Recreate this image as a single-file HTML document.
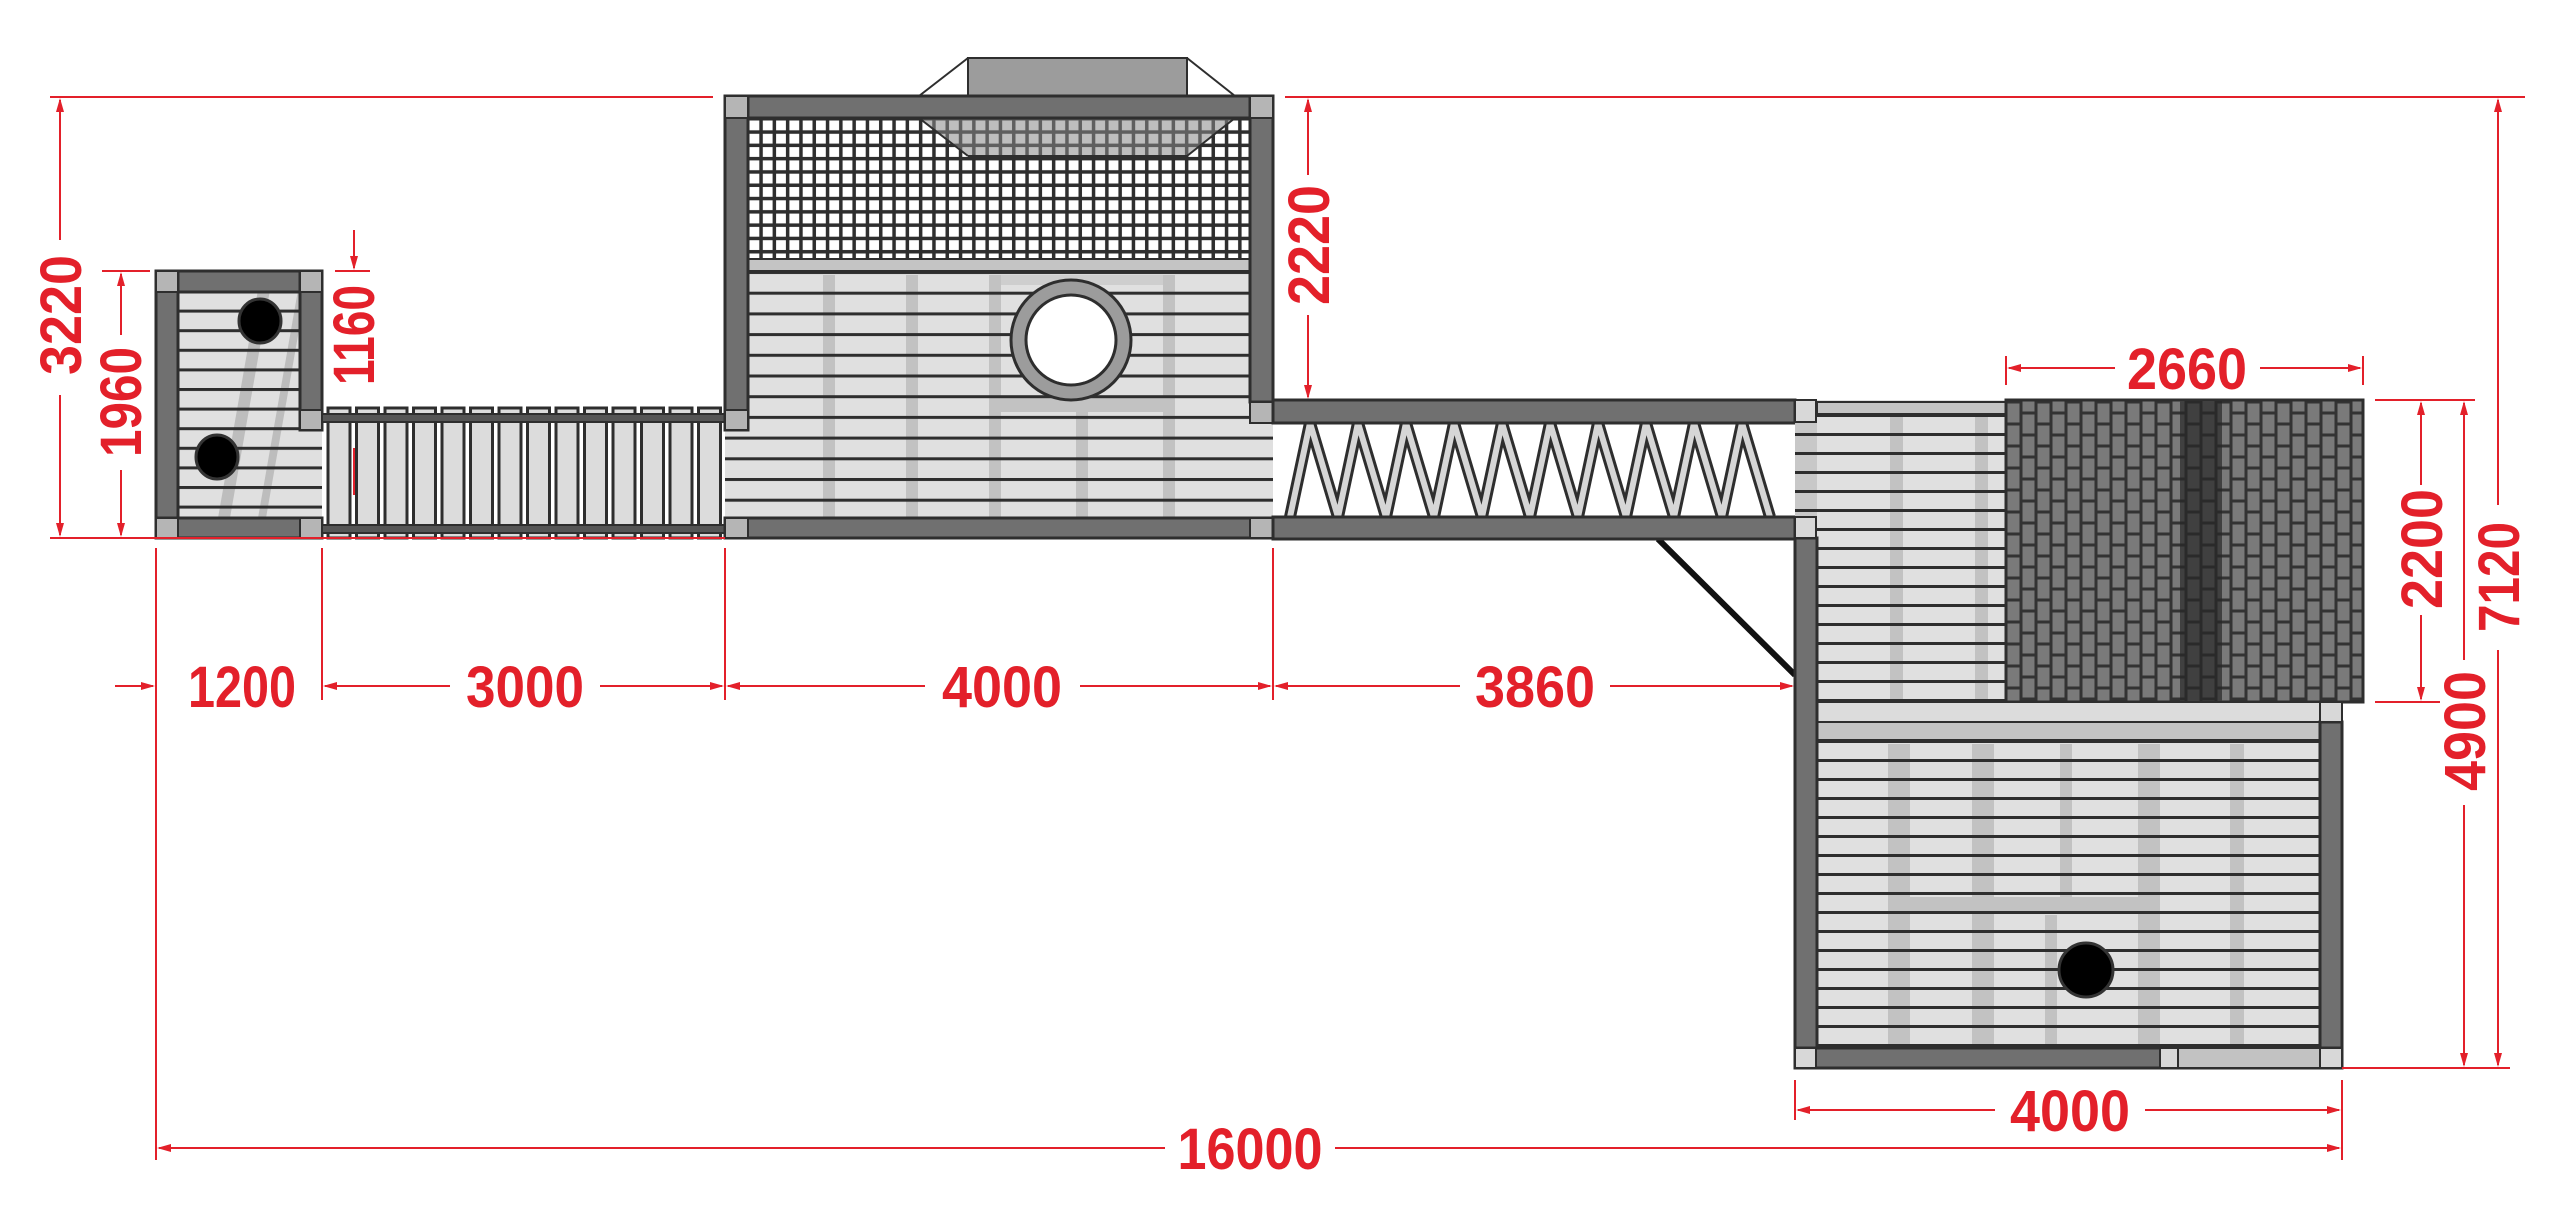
<!DOCTYPE html>
<html><head><meta charset="utf-8"><style>html,body{margin:0;padding:0;background:#fff}svg{display:block}</style></head>
<body>
<svg width="2560" height="1229" viewBox="0 0 2560 1229" xmlns="http://www.w3.org/2000/svg">
<defs>
<pattern id="net" x="748" y="119" width="13.3" height="13.3" patternUnits="userSpaceOnUse">
<rect width="13.3" height="13.3" fill="#2e2e2e"/><rect x="1.5" y="1.5" width="9.8" height="9.8" fill="#fff"/>
</pattern>
<pattern id="brick" x="2006" y="402" width="30" height="44" patternUnits="userSpaceOnUse">
<rect width="30" height="44" fill="#333"/>
<rect x="1.5" y="1.5" width="12" height="19" fill="#7a7a7a"/><rect x="1.5" y="23.5" width="12" height="19" fill="#7a7a7a"/>
<rect x="16.5" y="-9.5" width="12" height="19" fill="#7a7a7a"/><rect x="16.5" y="12.5" width="12" height="19" fill="#7a7a7a"/><rect x="16.5" y="34.5" width="12" height="19" fill="#7a7a7a"/>
</pattern>
<pattern id="brickd" x="2006" y="402" width="30" height="44" patternUnits="userSpaceOnUse">
<rect width="30" height="44" fill="#2a2a2a"/>
<rect x="1.5" y="1.5" width="12" height="19" fill="#404040"/><rect x="1.5" y="23.5" width="12" height="19" fill="#404040"/>
<rect x="16.5" y="-9.5" width="12" height="19" fill="#404040"/><rect x="16.5" y="12.5" width="12" height="19" fill="#404040"/><rect x="16.5" y="34.5" width="12" height="19" fill="#404040"/>
</pattern>
<pattern id="pl1" x="0" y="271" width="10" height="20.7" patternUnits="userSpaceOnUse">
<rect y="0" width="10" height="3" fill="#2e2e2e"/></pattern>
<pattern id="pl2" x="0" y="290" width="10" height="19.6" patternUnits="userSpaceOnUse">
<rect y="0" width="10" height="3" fill="#2e2e2e"/></pattern>
<pattern id="pl3" x="0" y="414" width="10" height="19" patternUnits="userSpaceOnUse">
<rect y="0" width="10" height="3" fill="#2e2e2e"/></pattern>
<pattern id="pl4" x="0" y="740" width="10" height="19" patternUnits="userSpaceOnUse">
<rect y="0" width="10" height="3" fill="#2e2e2e"/></pattern>
</defs>

<!-- LEFT TOWER -->
<rect x="156" y="271" width="166" height="267" fill="#e0e0e0"/>
<polygon points="258,290 270,290 230,518 218,518" fill="#bdbdbd"/>
<polygon points="298,290 306,290 266,518 258,518" fill="#bdbdbd"/>
<rect x="178" y="290" width="144" height="228" fill="url(#pl2)"/>
<rect x="156" y="271" width="166" height="21" fill="#707070" stroke="#2e2e2e" stroke-width="3"/>
<rect x="156" y="271" width="22" height="267" fill="#707070" stroke="#2e2e2e" stroke-width="3"/>
<rect x="300" y="271" width="22" height="159" fill="#707070" stroke="#2e2e2e" stroke-width="3"/>
<rect x="156" y="518" width="166" height="20" fill="#707070" stroke="#2e2e2e" stroke-width="3"/>
<rect x="156" y="271" width="22" height="21" fill="#b5b5b5" stroke="#2e2e2e" stroke-width="2"/>
<rect x="300" y="271" width="22" height="21" fill="#b5b5b5" stroke="#2e2e2e" stroke-width="2"/>
<rect x="300" y="410" width="22" height="20" fill="#b5b5b5" stroke="#2e2e2e" stroke-width="2"/>
<rect x="156" y="518" width="22" height="20" fill="#b5b5b5" stroke="#2e2e2e" stroke-width="2"/>
<rect x="300" y="518" width="22" height="20" fill="#b5b5b5" stroke="#2e2e2e" stroke-width="2"/>
<ellipse cx="260" cy="321" rx="21" ry="22" fill="#000" stroke="#333" stroke-width="3"/>
<ellipse cx="217" cy="457" rx="21" ry="22" fill="#000" stroke="#333" stroke-width="3"/>

<!-- BRIDGE -->
<g fill="#dcdcdc" stroke="#2e2e2e" stroke-width="3">
<rect x="328" y="408" width="22" height="130"/><rect x="356.5" y="408" width="22" height="130"/><rect x="385" y="408" width="22" height="130"/><rect x="413.5" y="408" width="22" height="130"/><rect x="442" y="408" width="22" height="130"/><rect x="470.5" y="408" width="22" height="130"/><rect x="499" y="408" width="22" height="130"/><rect x="527.5" y="408" width="22" height="130"/><rect x="556" y="408" width="22" height="130"/><rect x="584.5" y="408" width="22" height="130"/><rect x="613" y="408" width="22" height="130"/><rect x="641.5" y="408" width="22" height="130"/><rect x="670" y="408" width="22" height="130"/><rect x="698.5" y="408" width="22" height="130"/>
</g>
<rect x="322" y="414" width="403" height="8" fill="#555" stroke="#2e2e2e" stroke-width="2"/>
<rect x="322" y="525" width="403" height="8" fill="#555" stroke="#2e2e2e" stroke-width="2"/>

<!-- MAIN TOWER -->
<rect x="725" y="96" width="548" height="442" fill="#e0e0e0"/>
<rect x="748" y="118" width="502" height="141" fill="url(#net)"/>
<rect x="748" y="259" width="502" height="12" fill="#c4c4c4" stroke="#2e2e2e" stroke-width="2"/>
<g fill="#c2c2c2">
<rect x="823" y="275" width="12" height="243"/><rect x="906" y="275" width="12" height="243"/><rect x="989" y="275" width="12" height="243"/><rect x="1076" y="380" width="12" height="138"/><rect x="1163" y="275" width="12" height="243"/>
<rect x="995" y="398" width="170" height="14"/><rect x="995" y="275" width="170" height="10" opacity=".6"/>
</g>
<rect x="725" y="271" width="548" height="247" fill="url(#pl1)"/>
<polygon points="968,156 1187,156 1235,118 919,118" fill="#888" opacity=".55"/>
<line x1="919" y1="118" x2="968" y2="156" stroke="#2e2e2e" stroke-width="2"/>
<line x1="1235" y1="118" x2="1187" y2="156" stroke="#2e2e2e" stroke-width="2"/>
<line x1="968" y1="156" x2="1187" y2="156" stroke="#2e2e2e" stroke-width="2"/>
<rect x="968" y="58" width="219" height="38" fill="#9c9c9c" stroke="#2e2e2e" stroke-width="2"/>
<line x1="919" y1="96" x2="968" y2="58" stroke="#2e2e2e" stroke-width="2"/>
<line x1="1235" y1="96" x2="1187" y2="58" stroke="#2e2e2e" stroke-width="2"/>
<circle cx="1071" cy="340" r="60" fill="#9c9c9c" stroke="#2e2e2e" stroke-width="3"/>
<circle cx="1071" cy="340" r="45" fill="#fff" stroke="#2e2e2e" stroke-width="3"/>
<rect x="725" y="96" width="548" height="22" fill="#707070" stroke="#2e2e2e" stroke-width="3"/>
<rect x="725" y="96" width="23" height="334" fill="#707070" stroke="#2e2e2e" stroke-width="3"/>
<rect x="1250" y="96" width="23" height="306" fill="#707070" stroke="#2e2e2e" stroke-width="3"/>
<rect x="725" y="518" width="548" height="20" fill="#707070" stroke="#2e2e2e" stroke-width="3"/>
<g fill="#b5b5b5" stroke="#2e2e2e" stroke-width="2">
<rect x="725" y="96" width="23" height="22"/><rect x="1250" y="96" width="23" height="22"/>
<rect x="725" y="410" width="23" height="20"/><rect x="1250" y="402" width="23" height="21"/>
<rect x="725" y="518" width="23" height="20"/><rect x="1250" y="518" width="23" height="20"/>
</g>

<!-- CLIMBING BRIDGE -->
<line x1="1658" y1="539" x2="1795" y2="675" stroke="#111" stroke-width="6"/>
<g fill="none" stroke-linejoin="miter">
<polyline points="1290,517 1310,423 1338,517 1358,423 1386,517 1406,423 1434,517 1454,423 1482,517 1502,423 1530,517 1550,423 1578,517 1598,423 1626,517 1646,423 1674,517 1694,423 1722,517 1742,423 1770,517" stroke="#2e2e2e" stroke-width="12"/>
<polyline points="1290,517 1310,423 1338,517 1358,423 1386,517 1406,423 1434,517 1454,423 1482,517 1502,423 1530,517 1550,423 1578,517 1598,423 1626,517 1646,423 1674,517 1694,423 1722,517 1742,423 1770,517" stroke="#d6d6d6" stroke-width="6"/>
</g>
<rect x="1273" y="400" width="522" height="23" fill="#707070" stroke="#2e2e2e" stroke-width="3"/>
<rect x="1273" y="517" width="522" height="22" fill="#707070" stroke="#2e2e2e" stroke-width="3"/>

<!-- RIGHT TOWER -->
<rect x="1795" y="400" width="211" height="302" fill="#e0e0e0"/>
<rect x="1795" y="422" width="22" height="95" fill="#c8c8c8"/>
<rect x="1890" y="414" width="13" height="310" fill="#c2c2c2"/>
<rect x="1975" y="414" width="13" height="310" fill="#c2c2c2"/>
<rect x="1817" y="402" width="189" height="12" fill="#c4c4c4" stroke="#2e2e2e" stroke-width="2"/>
<rect x="1795" y="414" width="211" height="288" fill="url(#pl3)"/>
<rect x="2006" y="400" width="357" height="302" fill="url(#brick)" stroke="#2e2e2e" stroke-width="3"/>
<rect x="2180" y="401" width="42" height="300" fill="url(#brickd)"/>
<rect x="1795" y="702" width="547" height="365" fill="#e0e0e0"/>
<g fill="#c2c2c2">
<rect x="1888" y="744" width="22" height="304"/><rect x="1972" y="744" width="22" height="304"/><rect x="2060" y="744" width="12" height="165"/><rect x="2138" y="744" width="22" height="304"/><rect x="2230" y="744" width="14" height="304"/>
<rect x="1910" y="897" width="238" height="14"/><rect x="1972" y="915" width="12" height="133"/><rect x="2045" y="915" width="12" height="133"/>
</g>
<rect x="1817" y="702" width="503" height="20" fill="#dcdcdc" stroke="#2e2e2e" stroke-width="2"/>
<rect x="1817" y="722" width="503" height="18" fill="#c4c4c4" stroke="#2e2e2e" stroke-width="2"/>
<rect x="1795" y="740" width="547" height="308" fill="url(#pl4)"/>
<circle cx="2086" cy="970" r="27" fill="#000" stroke="#333" stroke-width="3"/>
<rect x="1795" y="538" width="22" height="529" fill="#707070" stroke="#2e2e2e" stroke-width="3"/>
<rect x="2320" y="722" width="22" height="345" fill="#707070" stroke="#2e2e2e" stroke-width="3"/>
<rect x="1795" y="1048" width="547" height="20" fill="#707070" stroke="#2e2e2e" stroke-width="3"/>
<rect x="2178" y="1048" width="142" height="20" fill="#c2c2c2" stroke="#2e2e2e" stroke-width="2"/>
<g fill="#d8d8d8" stroke="#2e2e2e" stroke-width="2">
<rect x="1795" y="400" width="21" height="22"/><rect x="1795" y="517" width="21" height="21"/>
<rect x="2320" y="702" width="22" height="20"/>
<rect x="1795" y="1048" width="21" height="20"/><rect x="2160" y="1048" width="18" height="20"/><rect x="2320" y="1048" width="22" height="20"/>
</g>

<!-- DIMENSIONS -->
<g stroke="#e3202a" stroke-width="2" fill="none">
<line x1="50" y1="97" x2="713" y2="97"/><line x1="1285" y1="97" x2="2525" y2="97"/>
<line x1="50" y1="538" x2="725" y2="538"/>
<line x1="102" y1="271" x2="150" y2="271"/>
<line x1="2375" y1="400" x2="2475" y2="400"/><line x1="2375" y1="702" x2="2440" y2="702"/>
<line x1="2342" y1="1068" x2="2510" y2="1068"/>
<line x1="335" y1="271" x2="370" y2="271"/>
<line x1="60" y1="100" x2="60" y2="240"/><line x1="60" y1="395" x2="60" y2="535"/>
<line x1="121" y1="274" x2="121" y2="335"/><line x1="121" y1="470" x2="121" y2="535"/>
<line x1="354" y1="230" x2="354" y2="268"/><line x1="354" y1="448" x2="354" y2="495"/>
<line x1="1308" y1="100" x2="1308" y2="175"/><line x1="1308" y1="315" x2="1308" y2="397"/>
<line x1="2421" y1="403" x2="2421" y2="485"/><line x1="2421" y1="615" x2="2421" y2="699"/>
<line x1="2498" y1="100" x2="2498" y2="505"/><line x1="2498" y1="650" x2="2498" y2="1065"/>
<line x1="2464" y1="403" x2="2464" y2="660"/><line x1="2464" y1="805" x2="2464" y2="1065"/>
<line x1="156" y1="548" x2="156" y2="1160"/><line x1="322" y1="548" x2="322" y2="700"/><line x1="725" y1="548" x2="725" y2="700"/><line x1="1273" y1="548" x2="1273" y2="700"/>
<line x1="1795" y1="1080" x2="1795" y2="1120"/><line x1="2342" y1="1080" x2="2342" y2="1160"/>
<line x1="2006" y1="356" x2="2006" y2="385"/><line x1="2363" y1="356" x2="2363" y2="385"/>
<line x1="115" y1="686" x2="153" y2="686"/>
<line x1="325" y1="686" x2="450" y2="686"/><line x1="600" y1="686" x2="722" y2="686"/>
<line x1="728" y1="686" x2="925" y2="686"/><line x1="1080" y1="686" x2="1270" y2="686"/>
<line x1="1276" y1="686" x2="1460" y2="686"/><line x1="1610" y1="686" x2="1792" y2="686"/>
<line x1="2009" y1="368" x2="2115" y2="368"/><line x1="2260" y1="368" x2="2360" y2="368"/>
<line x1="1798" y1="1110" x2="1995" y2="1110"/><line x1="2145" y1="1110" x2="2339" y2="1110"/>
<line x1="159" y1="1148" x2="1165" y2="1148"/><line x1="1335" y1="1148" x2="2339" y2="1148"/>
</g>
<g fill="#e3202a">
<polygon points="60,98 56,112 64,112"/><polygon points="60,537 56,523 64,523"/>
<polygon points="121,272 117,286 125,286"/><polygon points="121,537 117,523 125,523"/>
<polygon points="354,270 350,256 358,256"/>
<polygon points="1308,98 1304,112 1312,112"/><polygon points="1308,399 1304,385 1312,385"/>
<polygon points="2421,401 2417,415 2425,415"/><polygon points="2421,701 2417,687 2425,687"/>
<polygon points="2498,98 2494,112 2502,112"/><polygon points="2498,1067 2494,1053 2502,1053"/>
<polygon points="2464,401 2460,415 2468,415"/><polygon points="2464,1067 2460,1053 2468,1053"/>
<polygon points="155,686 141,682 141,690"/>
<polygon points="323,686 337,682 337,690"/><polygon points="724,686 710,682 710,690"/>
<polygon points="726,686 740,682 740,690"/><polygon points="1272,686 1258,682 1258,690"/>
<polygon points="1274,686 1288,682 1288,690"/><polygon points="1794,686 1780,682 1780,690"/>
<polygon points="2007,368 2021,364 2021,372"/><polygon points="2362,368 2348,364 2348,372"/>
<polygon points="1796,1110 1810,1106 1810,1114"/><polygon points="2341,1110 2327,1106 2327,1114"/>
<polygon points="157,1148 171,1144 171,1152"/><polygon points="2341,1148 2327,1144 2327,1152"/>
</g>
<g fill="#e3202a" font-family="'Liberation Sans Narrow','Liberation Sans',sans-serif" font-size="58" font-weight="bold" text-anchor="middle">
<text x="242" y="707" textLength="108" lengthAdjust="spacingAndGlyphs">1200</text>
<text x="525" y="707" textLength="118" lengthAdjust="spacingAndGlyphs">3000</text>
<text x="1002" y="707" textLength="120" lengthAdjust="spacingAndGlyphs">4000</text>
<text x="1535" y="707" textLength="120" lengthAdjust="spacingAndGlyphs">3860</text>
<text x="2187" y="389" textLength="120" lengthAdjust="spacingAndGlyphs">2660</text>
<text x="2070" y="1131" textLength="120" lengthAdjust="spacingAndGlyphs">4000</text>
<text x="1250" y="1169" textLength="145" lengthAdjust="spacingAndGlyphs">16000</text>
<text transform="translate(81,315) rotate(-90)" textLength="120" lengthAdjust="spacingAndGlyphs">3220</text>
<text transform="translate(141,402) rotate(-90)" textLength="110" lengthAdjust="spacingAndGlyphs">1960</text>
<text transform="translate(374,335) rotate(-90)" textLength="100" lengthAdjust="spacingAndGlyphs">1160</text>
<text transform="translate(1329,245) rotate(-90)" textLength="120" lengthAdjust="spacingAndGlyphs">2220</text>
<text transform="translate(2442,549) rotate(-90)" textLength="120" lengthAdjust="spacingAndGlyphs">2200</text>
<text transform="translate(2519,577) rotate(-90)" textLength="110" lengthAdjust="spacingAndGlyphs">7120</text>
<text transform="translate(2485,731) rotate(-90)" textLength="120" lengthAdjust="spacingAndGlyphs">4900</text>
</g>
</svg>
</body></html>
